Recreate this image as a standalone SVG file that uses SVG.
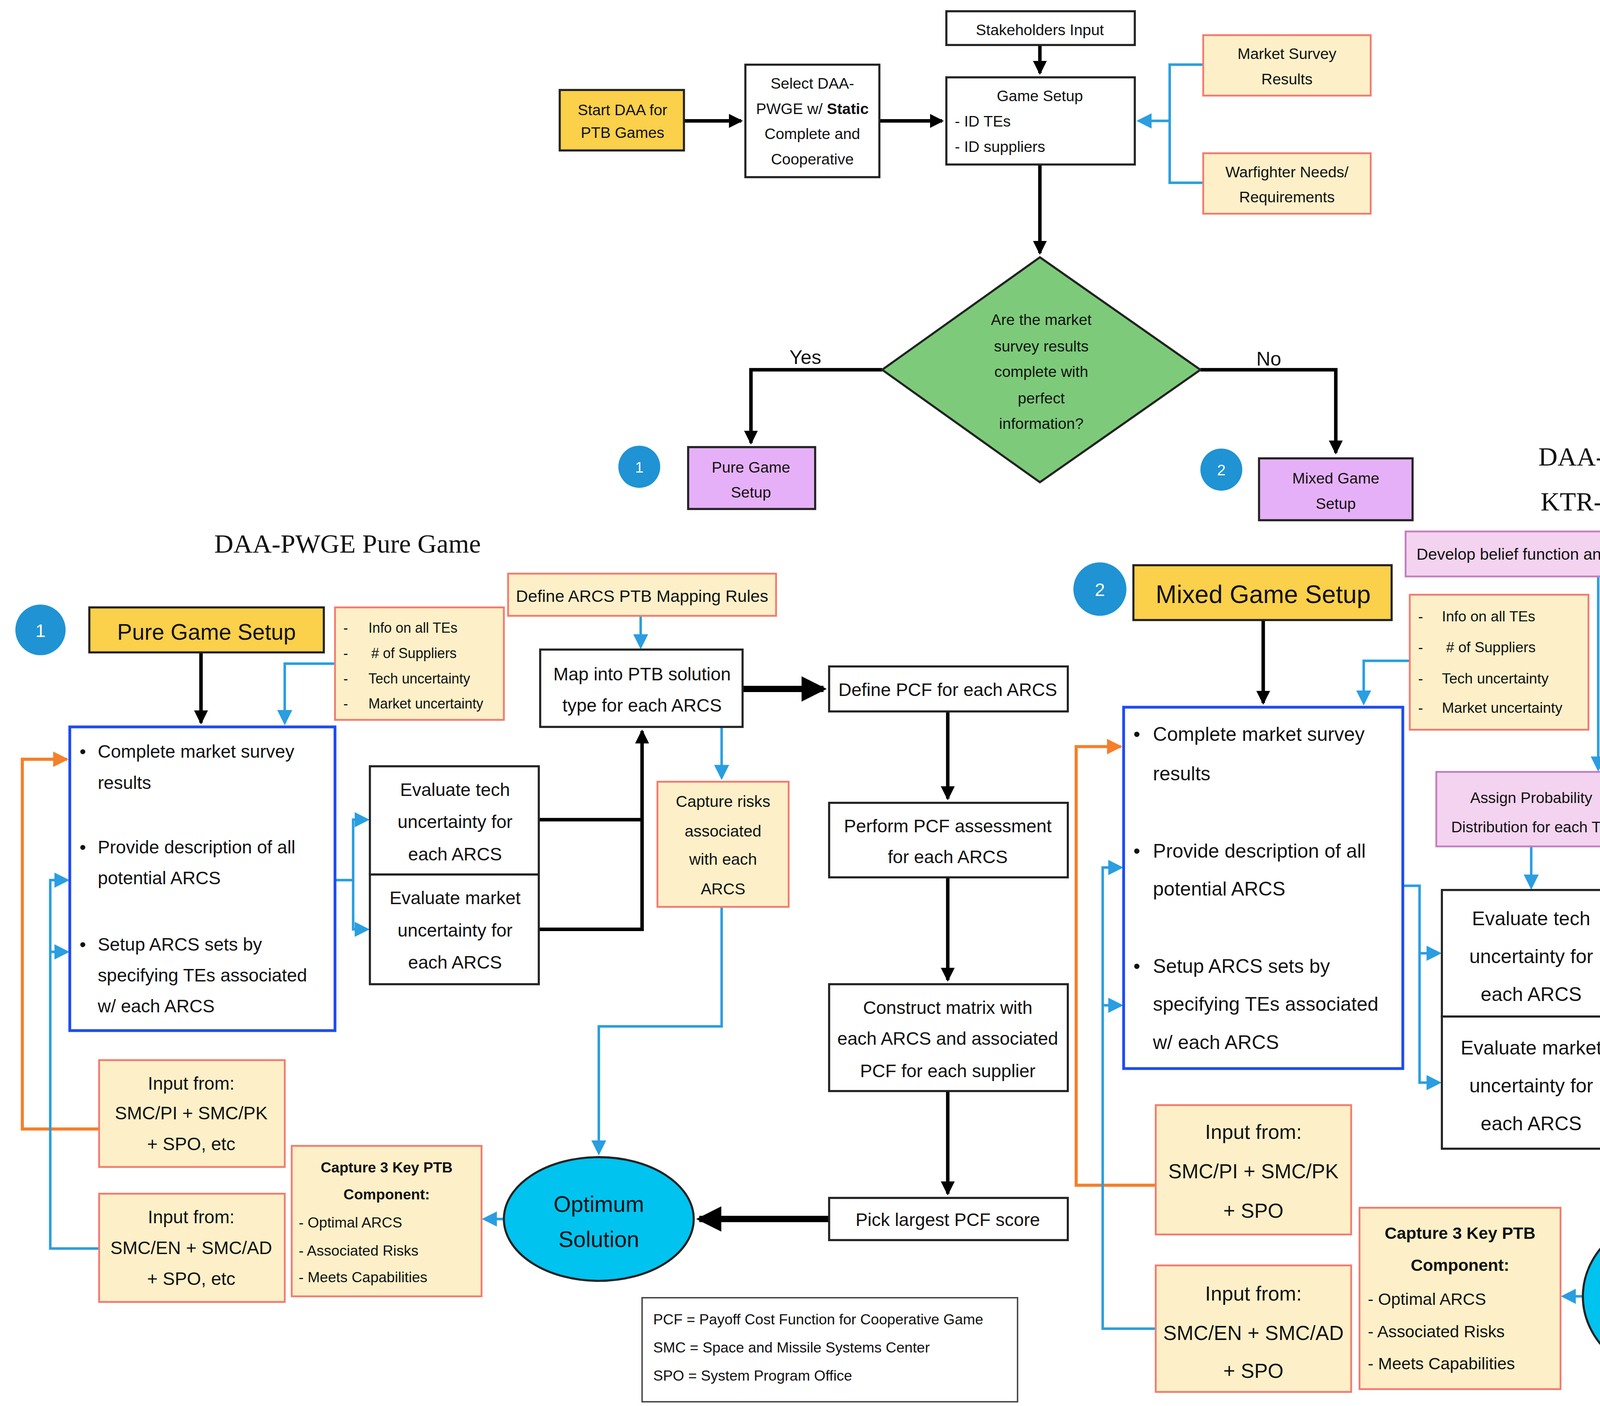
<svg xmlns="http://www.w3.org/2000/svg" width="5603" height="3600" viewBox="0 0 5603 3600">
<style>
text{font-family:"Liberation Sans",Arial,sans-serif;fill:#111}
.c{text-anchor:middle}
.serif{font-family:"Liberation Serif","Times New Roman",serif}
.w{fill:#fff;stroke:#222;stroke-width:1.5}
.y{fill:#fbd04a;stroke:#222;stroke-width:1.5}
.p{fill:#fdf0c8;stroke:#f47a6e;stroke-width:1.3}
.k{fill:#f3d3ef;stroke:#c57ec0;stroke-width:1.3}
.v{fill:#e6b0f8;stroke:#222;stroke-width:1.5}
.bb{fill:#fff;stroke:#1f4cf0;stroke-width:2}
.dot{fill:#1f93d4}
.bl{fill:none;stroke:#000;stroke-width:2.5}
.tk{fill:none;stroke:#000;stroke-width:4.5}
.bu{fill:none;stroke:#2a9ee0;stroke-width:1.8}
.or{fill:none;stroke:#f57f2a;stroke-width:2.2}
</style>
<defs>
<marker id="ak" markerWidth="4" markerHeight="4" refX="3.5" refY="2" orient="auto"><path d="M0,0L4,2L0,4z" fill="#000"/></marker>
<marker id="au" markerWidth="6" markerHeight="6" refX="5" refY="3" orient="auto"><path d="M0,0L6,3L0,6z" fill="#2a9ee0"/></marker>
<marker id="ao" markerWidth="5" markerHeight="5" refX="4.5" refY="2.5" orient="auto"><path d="M0,0L5,2.5L0,5z" fill="#f57f2a"/></marker>
</defs>
<rect width="5603" height="3600" fill="#fff"/>
<g transform="scale(3.5733,3.6)">
<g id="connectors">
<path class="bl" d="M490,86H531" marker-end="url(#ak)"/>
<path class="bl" d="M630,86H675" marker-end="url(#ak)"/>
<path class="bl" d="M745,32V52" marker-end="url(#ak)"/>
<path class="bu" d="M862,46H838V130H862M838,86H816" marker-end="url(#au)"/>
<path class="bl" d="M745,117V180" marker-end="url(#ak)"/>
<path class="bl" stroke-width="1.8" d="M632,263H538V315" marker-end="url(#ak)"/>
<path class="bl" stroke-width="1.8" d="M860,263H957V322" marker-end="url(#ak)"/>
<path class="bl" d="M144,464V514" marker-end="url(#ak)"/>
<path class="bu" d="M240,472H204V514" marker-end="url(#au)"/>
<path class="bu" d="M459,438V460" marker-end="url(#au)"/>
<path class="tk" d="M532,490H590" marker-end="url(#ak)"/>
<path class="bu" d="M517,517V553" marker-end="url(#au)"/>
<path class="bu" d="M517,645V730H429V820" marker-end="url(#au)"/>
<path class="bl" d="M386,583H460M386,661H460V520" marker-end="url(#ak)"/>
<path class="bu" d="M240,626H253V583H263" marker-end="url(#au)"/>
<path class="bu" d="M253,626V661H263" marker-end="url(#au)"/>
<path class="bl" d="M679,506V568" marker-end="url(#ak)"/>
<path class="bl" d="M679,624V697" marker-end="url(#ak)"/>
<path class="bl" d="M679,776V849" marker-end="url(#ak)"/>
<path class="tk" d="M594,867H501" marker-end="url(#ak)"/>
<path class="bu" d="M361,867H347" marker-end="url(#au)"/>
<path class="or" d="M71,803H16V540H48" marker-end="url(#ao)"/>
<path class="bu" d="M71,888H36V626H48" marker-end="url(#au)"/>
<path class="bu" d="M36,677H48" marker-end="url(#au)"/>
<path class="bl" d="M905,441V500" marker-end="url(#ak)"/>
<path class="bu" d="M1010,470H977V500" marker-end="url(#au)"/>
<path class="bu" d="M1227,395H1245" marker-end="url(#au)"/>
<path class="bu" d="M1145,410V547" marker-end="url(#au)"/>
<path class="bu" d="M1193,453V412" marker-end="url(#au)"/>
<path class="bu" d="M1291,412V451" marker-end="url(#au)"/>
<path class="bu" d="M1097,602V631" marker-end="url(#au)"/>
<path class="tk" d="M1315,485H1376" marker-end="url(#ak)"/>
<path class="bu" d="M1295,518V548" marker-end="url(#au)"/>
<path class="bu" d="M1295,651V800H1206V860" marker-end="url(#au)"/>
<path class="bl" d="M1162,678H1240M1162,770H1240V521" marker-end="url(#ak)"/>
<path class="bu" d="M1005,630H1017V678H1031" marker-end="url(#au)"/>
<path class="bu" d="M1017,678V770H1031" marker-end="url(#au)"/>
<path class="bl" d="M1470,518V565" marker-end="url(#ak)"/>
<path class="bl" d="M1470,631V717" marker-end="url(#ak)"/>
<path class="bl" d="M1470,810V900" marker-end="url(#ak)"/>
<path class="tk" d="M1380,922H1282" marker-end="url(#ak)"/>
<path class="bu" d="M1134,922H1120" marker-end="url(#au)"/>
<path class="or" d="M828,843H771V531H803" marker-end="url(#ao)"/>
<path class="bu" d="M828,945H790V617H803" marker-end="url(#au)"/>
<path class="bu" d="M790,715H803" marker-end="url(#au)"/>
</g>
<text x="577" y="259" class="c" font-size="14">Yes</text>
<text x="909" y="260" class="c" font-size="14">No</text>
<text x="249" y="393" class="c serif" font-size="19">DAA-PWGE Pure Game</text>
<text x="1205" y="331" class="c serif" font-size="19">DAA-PWGE Mixed Game</text>
<text x="1205" y="363" class="c serif" font-size="19">KTR-PWGE Mixed Game</text>

<g id="stake"><rect class="w" x="678" y="8" width="135" height="24"/><text x="745" y="25" class="c" font-size="11">Stakeholders Input</text></g>
<g id="start"><rect class="y" x="401" y="64" width="89" height="43"/><text x="446" y="82" class="c" font-size="11">Start DAA for</text><text x="446" y="98" class="c" font-size="11">PTB Games</text></g>
<g id="select"><rect class="w" x="534" y="46" width="96" height="80"/><text x="582" y="63" class="c" font-size="11">Select DAA-</text><text x="582" y="81" class="c" font-size="11">PWGE w/ <tspan font-weight="bold">Static</tspan></text><text x="582" y="99" class="c" font-size="11">Complete and</text><text x="582" y="117" class="c" font-size="11">Cooperative</text></g>
<g id="gamesetup"><rect class="w" x="678" y="55" width="135" height="62"/><text x="745" y="72" class="c" font-size="11">Game Setup</text><text x="684" y="90" font-size="11">-   ID TEs</text><text x="684" y="108" font-size="11">-   ID suppliers</text></g>
<g id="market"><rect class="p" x="862" y="25" width="120" height="43"/><text x="922" y="42" class="c" font-size="11">Market Survey</text><text x="922" y="60" class="c" font-size="11">Results</text></g>
<g id="warf"><rect class="p" x="862" y="109" width="120" height="43"/><text x="922" y="126" class="c" font-size="11">Warfighter Needs/</text><text x="922" y="144" class="c" font-size="11">Requirements</text></g>
<g id="diamond"><path d="M745,183L860,263L745,343L632,263Z" fill="#7dcb7a" stroke="#222" stroke-width="1.5"/>
<text class="c" font-size="11"><tspan x="746" y="231">Are the market</tspan><tspan x="746" y="250">survey results</tspan><tspan x="746" y="268">complete with</tspan><tspan x="746" y="287">perfect</tspan><tspan x="746" y="305">information?</tspan></text></g>
<g id="puresmall"><rect class="v" x="493" y="318" width="91" height="44"/><text x="538" y="336" class="c" font-size="11">Pure Game</text><text x="538" y="354" class="c" font-size="11">Setup</text></g>
<g id="mixedsmall"><rect class="v" x="902" y="326" width="110" height="44"/><text x="957" y="344" class="c" font-size="11">Mixed Game</text><text x="957" y="362" class="c" font-size="11">Setup</text></g>
<g id="c1a"><circle class="dot" cx="458" cy="332" r="15"/><text x="458" y="336" class="c" font-size="11" style="fill:#fff">1</text></g>
<g id="c2a"><circle class="dot" cx="875" cy="334" r="15"/><text x="875" y="338" class="c" font-size="11" style="fill:#fff">2</text></g>

<g id="c1"><circle class="dot" cx="29" cy="448" r="18"/><text x="29" y="453" class="c" font-size="13" style="fill:#fff">1</text></g>
<g id="puresetup"><rect class="y" x="64" y="432" width="168" height="32"/><text x="148" y="455" class="c" font-size="16">Pure Game Setup</text></g>
<g id="info1"><rect class="p" x="240" y="432" width="121" height="80"/><text font-size="10"><tspan x="246" y="450">-</tspan><tspan x="264" y="450">Info on all TEs</tspan><tspan x="246" y="468">-</tspan><tspan x="266" y="468"># of Suppliers</tspan><tspan x="246" y="486">-</tspan><tspan x="264" y="486">Tech uncertainty</tspan><tspan x="246" y="504">-</tspan><tspan x="264" y="504">Market uncertainty</tspan></text></g>
<g id="define1"><rect class="p" x="364" y="408" width="192" height="30"/><text x="460" y="428" class="c" font-size="12">Define ARCS PTB Mapping Rules</text></g>
<g id="blue1"><rect class="bb" x="50" y="517" width="190" height="216"/><text font-size="13"><tspan x="57" y="539">•</tspan><tspan x="70" y="539">Complete market survey</tspan><tspan x="70" y="561">results</tspan><tspan x="57" y="607">•</tspan><tspan x="70" y="607">Provide description of all</tspan><tspan x="70" y="629">potential ARCS</tspan><tspan x="57" y="676">•</tspan><tspan x="70" y="676">Setup ARCS sets by</tspan><tspan x="70" y="698">specifying TEs associated</tspan><tspan x="70" y="720">w/ each ARCS</tspan></text></g>
<g id="evt1"><rect class="w" x="265" y="545" width="121" height="77"/><text class="c" font-size="13"><tspan x="326" y="566">Evaluate tech</tspan><tspan x="326" y="589">uncertainty for</tspan><tspan x="326" y="612">each ARCS</tspan></text></g>
<g id="evm1"><rect class="w" x="265" y="622" width="121" height="78"/><text class="c" font-size="13"><tspan x="326" y="643">Evaluate market</tspan><tspan x="326" y="666">uncertainty for</tspan><tspan x="326" y="689">each ARCS</tspan></text></g>
<g id="map1"><rect class="w" x="387" y="462" width="145" height="55"/><text class="c" font-size="13"><tspan x="460" y="484">Map into PTB solution</tspan><tspan x="460" y="506">type for each ARCS</tspan></text></g>
<g id="defpcf1"><rect class="w" x="594" y="474" width="171" height="32"/><text x="679" y="495" class="c" font-size="13">Define PCF for each ARCS</text></g>
<g id="risk1"><rect class="p" x="471" y="556" width="94" height="89"/><text class="c" font-size="11.5"><tspan x="518" y="574">Capture risks</tspan><tspan x="518" y="595">associated</tspan><tspan x="518" y="615">with each</tspan><tspan x="518" y="636">ARCS</tspan></text></g>
<g id="perf1"><rect class="w" x="594" y="571" width="171" height="53"/><text class="c" font-size="13"><tspan x="679" y="592">Perform PCF assessment</tspan><tspan x="679" y="614">for each ARCS</tspan></text></g>
<g id="cons1"><rect class="w" x="594" y="700" width="171" height="76"/><text class="c" font-size="13"><tspan x="679" y="721">Construct matrix with</tspan><tspan x="679" y="743">each ARCS and associated</tspan><tspan x="679" y="766">PCF for each supplier</tspan></text></g>
<g id="pick1"><rect class="w" x="594" y="852" width="171" height="30"/><text x="679" y="872" class="c" font-size="13">Pick largest PCF score</text></g>
<g id="opt1"><ellipse cx="429" cy="867" rx="68" ry="44" fill="#00c3ef" stroke="#222" stroke-width="1.5"/><text class="c" font-size="16"><tspan x="429" y="862">Optimum</tspan><tspan x="429" y="887">Solution</tspan></text></g>
<g id="key1"><rect class="p" x="209" y="815" width="136" height="107"/><text font-size="10.5"><tspan x="277" y="834" class="c" font-weight="bold">Capture 3 Key PTB</tspan><tspan x="277" y="853" class="c" font-weight="bold">Component:</tspan><tspan x="214" y="873">- Optimal ARCS</tspan><tspan x="214" y="893">- Associated Risks</tspan><tspan x="214" y="912">- Meets Capabilities</tspan></text></g>
<g id="inpi1"><rect class="p" x="71" y="754" width="133" height="76"/><text class="c" font-size="13"><tspan x="137" y="775">Input from:</tspan><tspan x="137" y="796">SMC/PI + SMC/PK</tspan><tspan x="137" y="818">+ SPO, etc</tspan></text></g>
<g id="inen1"><rect class="p" x="71" y="849" width="133" height="77"/><text class="c" font-size="13"><tspan x="137" y="870">Input from:</tspan><tspan x="137" y="892">SMC/EN + SMC/AD</tspan><tspan x="137" y="914">+ SPO, etc</tspan></text></g>
<g id="legend"><rect x="460" y="923" width="269" height="74" fill="#fff" stroke="#444" stroke-width="1"/><text font-size="10.5" fill="#333"><tspan x="468" y="942">PCF = Payoff Cost Function for Cooperative Game</tspan><tspan x="468" y="962">SMC = Space and Missile Systems Center</tspan><tspan x="468" y="982">SPO = System Program Office</tspan></text></g>

<g id="c2"><circle class="dot" cx="788" cy="419" r="19"/><text x="788" y="424" class="c" font-size="13" style="fill:#fff">2</text></g>
<g id="mixsetup"><rect class="y" x="812" y="402" width="185" height="39"/><text x="905" y="429" class="c" font-size="18">Mixed Game Setup</text></g>
<g id="belief"><rect class="k" x="1007" y="378" width="220" height="32"/><text x="1117" y="398" class="c" font-size="11.5">Develop belief function and TEs weights</text></g>
<g id="arcsmap"><rect class="k" x="1247" y="381" width="175" height="31"/><text x="1334" y="401" class="c" font-size="12">ARCS PTB Mapping Rules</text></g>
<g id="info2"><rect class="p" x="1010" y="423" width="128" height="96"/><text font-size="10.5"><tspan x="1016" y="442">-</tspan><tspan x="1033" y="442">Info on all TEs</tspan><tspan x="1016" y="464">-</tspan><tspan x="1036" y="464"># of Suppliers</tspan><tspan x="1016" y="486">-</tspan><tspan x="1033" y="486">Tech uncertainty</tspan><tspan x="1016" y="507">-</tspan><tspan x="1033" y="507">Market uncertainty</tspan></text></g>
<g id="blue2"><rect class="bb" x="805" y="503" width="200" height="257"/><text font-size="14"><tspan x="812" y="527">•</tspan><tspan x="826" y="527">Complete market survey</tspan><tspan x="826" y="555">results</tspan><tspan x="812" y="610">•</tspan><tspan x="826" y="610">Provide description of all</tspan><tspan x="826" y="637">potential ARCS</tspan><tspan x="812" y="692">•</tspan><tspan x="826" y="692">Setup ARCS sets by</tspan><tspan x="826" y="719">specifying TEs associated</tspan><tspan x="826" y="746">w/ each ARCS</tspan></text></g>
<g id="assign"><rect class="k" x="1029" y="549" width="137" height="53"/><text class="c" font-size="11"><tspan x="1097" y="571">Assign Probability</tspan><tspan x="1097" y="592">Distribution for each TE</tspan></text></g>
<g id="evt2"><rect class="w" x="1033" y="633" width="129" height="90"/><text class="c" font-size="14"><tspan x="1097" y="658">Evaluate tech</tspan><tspan x="1097" y="685">uncertainty for</tspan><tspan x="1097" y="712">each ARCS</tspan></text></g>
<g id="evm2"><rect class="w" x="1033" y="723" width="129" height="94"/><text class="c" font-size="14"><tspan x="1097" y="750">Evaluate market</tspan><tspan x="1097" y="777">uncertainty for</tspan><tspan x="1097" y="804">each ARCS</tspan></text></g>
<g id="map2"><rect class="w" x="1162" y="453" width="153" height="65"/><text class="c" font-size="14"><tspan x="1239" y="477">Map into PTB solution</tspan><tspan x="1239" y="504">type for each ARCS</tspan></text></g>
<g id="devpcf"><rect class="w" x="1380" y="453" width="180" height="65"/><text class="c" font-size="15"><tspan x="1470" y="477">Develop PCF for each</tspan><tspan x="1470" y="504">ARCS</tspan></text></g>
<g id="risk2"><rect class="p" x="1248" y="550" width="92" height="101"/><text class="c" font-size="11.5"><tspan x="1294" y="571">Capture risks</tspan><tspan x="1294" y="594">associated</tspan><tspan x="1294" y="617">with each</tspan><tspan x="1294" y="640">ARCS</tspan></text></g>
<g id="perf2"><rect class="w" x="1380" y="568" width="180" height="63"/><text class="c" font-size="14.5"><tspan x="1470" y="592">Perform PCF assessment</tspan><tspan x="1470" y="619">for each ARCS</tspan></text></g>
<g id="cons2"><rect class="w" x="1380" y="720" width="180" height="90"/><text class="c" font-size="14.5"><tspan x="1470" y="746">Construct matrix with</tspan><tspan x="1470" y="773">each ARCS and associated</tspan><tspan x="1470" y="800">PCF for each supplier</tspan></text></g>
<g id="pick2"><rect class="w" x="1380" y="903" width="180" height="37"/><text x="1470" y="928" class="c" font-size="15">Pick largest PCF score</text></g>
<g id="opt2"><ellipse cx="1206" cy="922" rx="72" ry="60" fill="#00c3ef" stroke="#222" stroke-width="1.5"/><text class="c" font-size="18"><tspan x="1206" y="915">Optimum</tspan><tspan x="1206" y="944">Solution</tspan></text></g>
<g id="key2"><rect class="p" x="974" y="859" width="144" height="129"/><text font-size="12"><tspan x="1046" y="881" class="c" font-weight="bold">Capture 3 Key PTB</tspan><tspan x="1046" y="904" class="c" font-weight="bold">Component:</tspan><tspan x="980" y="928">- Optimal ARCS</tspan><tspan x="980" y="951">- Associated Risks</tspan><tspan x="980" y="974">- Meets Capabilities</tspan></text></g>
<g id="inpi2"><rect class="p" x="828" y="786" width="140" height="92"/><text class="c" font-size="14.5"><tspan x="898" y="810">Input from:</tspan><tspan x="898" y="838">SMC/PI + SMC/PK</tspan><tspan x="898" y="866">+ SPO</tspan></text></g>
<g id="inen2"><rect class="p" x="828" y="900" width="140" height="90"/><text class="c" font-size="14.5"><tspan x="898" y="925">Input from:</tspan><tspan x="898" y="953">SMC/EN + SMC/AD</tspan><tspan x="898" y="980">+ SPO</tspan></text></g>
</g>
</svg>
